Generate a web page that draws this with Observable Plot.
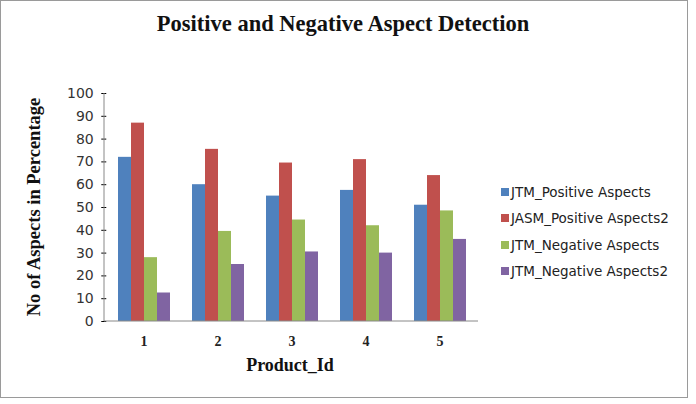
<!DOCTYPE html>
<html>
<head>
<meta charset="utf-8">
<script src="https://cdn.jsdelivr.net/npm/d3@7"></script>
<script src="https://cdn.jsdelivr.net/npm/@observablehq/plot@0.6"></script>
<style>
  html, body { margin: 0; padding: 0; background: #fff; }
  #wrap { position: relative; width: 696px; height: 404px; overflow: hidden; }
  #border { position: absolute; left: 0; top: 0; width: 686px; height: 396px; border: 1.5px solid #9a9a9a; box-sizing: content-box; }
  .title { position: absolute; left: 0; width: 686px; top: 13px; text-align: center;
    font-family: "Liberation Serif", "DejaVu Serif", serif; font-weight: bold; font-size: 22.5px; color: #111; line-height: 1; }
  .ylab { position: absolute; left: 34px; top: 207px; transform: translate(-50%, -50%) rotate(-90deg);
    white-space: nowrap; font-family: "Liberation Serif", serif; font-weight: bold; font-size: 18.5px; color: #111; line-height: 1; }
  .xlab { position: absolute; left: 290px; top: 356px; transform: translateX(-50%);
    white-space: nowrap; font-family: "Liberation Serif", serif; font-weight: bold; font-size: 18px; color: #111; line-height: 1; }
  .legend { position: absolute; left: 501px; top: 0; font-family: "DejaVu Sans", sans-serif; font-size: 13.5px; color: #222; }
  .legend .item { position: absolute; left: 0; white-space: nowrap; display: flex; align-items: center; transform: translateY(-50%); }
  .legend .sw { width: 8px; height: 8px; margin-right: 2px; }
  svg g[aria-label="y-axis tick label"] text { fill: #333; font-size: 14px; }
  svg g[aria-label="fx-axis tick label"] text { fill: #222; font-family: "Liberation Serif", serif; font-weight: bold; font-size: 14px; }
  svg g[aria-label="y-axis tick"] { stroke: #888; }
</style>
</head>
<body>
<div id="wrap"></div>
<script>
const products = [1, 2, 3, 4, 5];
const seriesNames = ["JTM_Positive Aspects", "JASM_Positive Aspects2", "JTM_Negative Aspects", "JTM_Negative Aspects2"];
const jtmPositive = [72, 60, 55, 57.5, 51];
const jasmPositive2 = [87, 75.5, 69.5, 71, 64];
const jtmNegative = [28, 39.5, 44.5, 42, 48.5];
const jtmNegative2 = [12.5, 25, 30.5, 30, 36];
const colors = ["#4F81BD", "#C0504D", "#9BBB59", "#8064A2"];
const yTicks = [0, 10, 20, 30, 40, 50, 60, 70, 80, 90, 100];

const seriesValues = [jtmPositive, jasmPositive2, jtmNegative, jtmNegative2];
const data = [];
products.forEach((p, i) => {
  seriesNames.forEach((s, j) => data.push({product: p, series: s, value: seriesValues[j][i]}));
});

const W = 696, H = 404;
const mL = 104, mR = 218, mT = 93, mB = 83;
const fxOpts = {domain: products, paddingInner: 0.287, paddingOuter: 0.1435};
// offset of the first facet from the frame's left edge, so the y axis sits on the frame
const fxScale = Plot.scale({fx: {...fxOpts, range: [mL, W - mR]}});
const facetOffset = fxScale.apply(products[0]) - mL;

const plot = Plot.plot({
  width: W, height: H,
  marginLeft: mL, marginRight: mR, marginTop: mT, marginBottom: mB,
  style: {fontFamily: "DejaVu Sans, sans-serif", fontSize: "13px", background: "transparent"},
  fx: {...fxOpts, axis: "bottom", tickSize: 0, tickPadding: 15, label: null},
  x: {domain: seriesNames, padding: 0, axis: null},
  y: {domain: [0, 100], label: null},
  color: {domain: seriesNames, range: colors},
  marks: [
    Plot.barY(data, {fx: "product", x: "series", y: "value", fill: "series"}),
    Plot.axisY({ticks: yTicks, tickSize: 5, tickPadding: 8, label: null, dx: -facetOffset})
  ]
});

const wrap = document.getElementById("wrap");
wrap.appendChild(plot);

// axis lines via the plot's own scales
const ys = plot.scale("y");
const y0 = ys.apply(0), y100 = ys.apply(100);
const xl = mL, xr = W - mR;
const svg = d3.select(plot);
svg.append("line").attr("x1", xl).attr("x2", xl).attr("y1", y100).attr("y2", y0).attr("stroke", "#888").attr("stroke-width", 1);
svg.append("line").attr("x1", xl).attr("x2", xr).attr("y1", y0).attr("y2", y0).attr("stroke", "#888").attr("stroke-width", 1);

// overlays
const border = document.createElement("div"); border.id = "border"; wrap.appendChild(border);
const t = document.createElement("div"); t.className = "title"; t.textContent = "Positive and Negative Aspect Detection"; wrap.appendChild(t);
const yl = document.createElement("div"); yl.className = "ylab"; yl.textContent = "No of Aspects in Percentage"; wrap.appendChild(yl);
const xlab = document.createElement("div"); xlab.className = "xlab"; xlab.textContent = "Product_Id"; wrap.appendChild(xlab);
const lg = document.createElement("div"); lg.className = "legend"; wrap.appendChild(lg);
const legendY = [192, 218.3, 244.6, 271];
seriesNames.forEach((s, i) => {
  const it = document.createElement("div"); it.className = "item"; it.style.top = legendY[i] + "px";
  const sw = document.createElement("span"); sw.className = "sw"; sw.style.background = colors[i];
  const tx = document.createElement("span"); tx.textContent = s;
  it.appendChild(sw); it.appendChild(tx); lg.appendChild(it);
});
</script>
</body>
</html>
